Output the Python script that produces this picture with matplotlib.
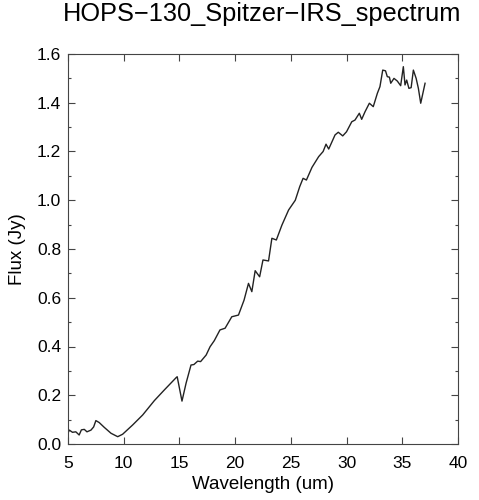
import numpy as np
import matplotlib
matplotlib.use("Agg")
import matplotlib.pyplot as plt
from matplotlib.ticker import MultipleLocator

# spectrum points
wavelength = [5.0, 5.12, 5.4, 5.7, 6.0, 6.2, 6.46, 6.7, 7.06, 7.3, 7.5, 7.8, 8.26,
              8.86, 9.46, 9.9, 10.8, 11.7, 12.75, 13.65, 14.7, 14.8, 15.23, 15.6,
              16.04, 16.3, 16.64, 16.9, 17.4, 17.75, 18.13, 18.64, 19.1, 19.7,
              20.3, 20.8, 21.2, 21.5, 21.8, 22.2, 22.5, 23.0, 23.3, 23.7, 24.2,
              24.8, 25.4, 25.8, 26.1, 26.4, 26.9, 27.5, 27.9, 28.16, 28.4, 28.97,
              29.26, 29.66, 30.0, 30.47, 30.76, 31.15, 31.36, 31.66, 32.05, 32.4,
              32.77, 33.0, 33.25, 33.5, 33.66, 33.85, 33.97, 34.26, 34.56, 34.86,
              35.1, 35.25, 35.4, 35.6, 35.8, 36.0, 36.25, 36.45, 36.66, 37.05]
flux = [0.045, 0.057, 0.048, 0.050, 0.037, 0.058, 0.060, 0.050, 0.057, 0.070,
        0.096, 0.088, 0.068, 0.044, 0.030, 0.040, 0.078, 0.119, 0.178, 0.222,
        0.272, 0.276, 0.176, 0.250, 0.324, 0.326, 0.340, 0.338, 0.365, 0.399,
        0.424, 0.468, 0.475, 0.522, 0.529, 0.590, 0.659, 0.625, 0.711, 0.686,
        0.755, 0.751, 0.844, 0.837, 0.898, 0.960, 1.000, 1.056, 1.090, 1.083,
        1.135, 1.179, 1.200, 1.230, 1.210, 1.268, 1.279, 1.264, 1.281, 1.322,
        1.329, 1.357, 1.332, 1.363, 1.398, 1.384, 1.439, 1.466, 1.534, 1.531,
        1.507, 1.505, 1.480, 1.500, 1.489, 1.470, 1.548, 1.473, 1.493, 1.459,
        1.462, 1.534, 1.500, 1.459, 1.398, 1.480]

plt.rcParams['font.family'] = ['Liberation Sans', 'DejaVu Sans']

fig = plt.figure(figsize=(4.79, 5.0), dpi=100)
ax = fig.add_axes([0.142, 0.112, 0.814, 0.78])

ax.plot(wavelength, flux, color='#222222', lw=1.0)

ax.set_xlim(5, 40)
ax.set_ylim(0, 1.6)
ax.xaxis.set_major_locator(MultipleLocator(5))
ax.yaxis.set_major_locator(MultipleLocator(0.2))
ax.yaxis.set_minor_locator(MultipleLocator(0.1))
ax.yaxis.set_major_formatter(matplotlib.ticker.FormatStrFormatter('%.1f'))
ax.tick_params(which='both', direction='in', top=True, right=True,
               labelsize=12.5, color='#444444', width=0.8)
ax.tick_params(which='major', length=5)
ax.tick_params(axis='x', which='major', pad=9)
ax.tick_params(axis='y', which='major', pad=5)
ax.tick_params(which='minor', length=2.5)
for s in ax.spines.values():
    s.set_color('#444444')
    s.set_linewidth(0.8)

ax.set_xlabel("Wavelength (um)", fontsize=13.5, labelpad=3)
ax.set_ylabel("Flux (Jy)", fontsize=13.5, labelpad=8)
fig.text(0.548, 1 - 14 / 500, "HOPS\u2212130_Spitzer\u2212IRS_spectrum",
         ha='center', va='center', fontsize=18.3)

fig.savefig("out.png", dpi=100)
